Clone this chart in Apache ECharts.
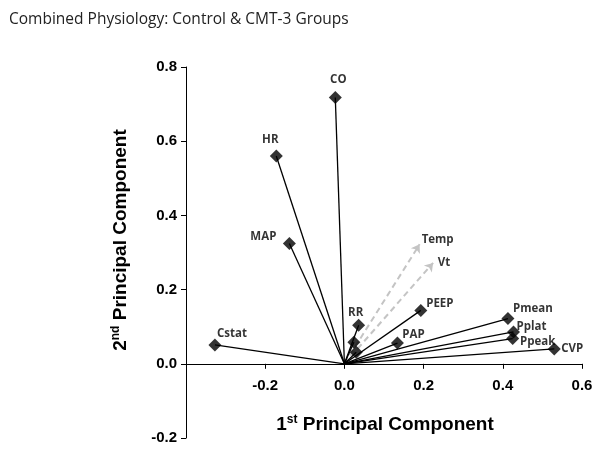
<!DOCTYPE html>
<html>
<head>
<meta charset="utf-8">
<script src="https://cdn.jsdelivr.net/npm/echarts@6/dist/echarts.min.js"></script>
<style>
html,body{margin:0;padding:0;background:#fff;}
#chart{width:600px;height:453px;}
</style>
</head>
<body>
<div id="chart"></div>
<script>
// ---- data ----
const titleText = 'Combined Physiology: Control & CMT-3 Groups';
const varNames = ['CO', 'HR', 'MAP', 'Cstat', 'RR', '', '', 'PAP', 'PEEP', 'Pmean', 'Pplat', 'Ppeak', 'CVP'];
const pc1 = [-0.023, -0.172, -0.139, -0.327, 0.036, 0.024, 0.030, 0.134, 0.193, 0.413, 0.427, 0.425, 0.530];
const pc2 = [0.718, 0.560, 0.324, 0.051, 0.104, 0.058, 0.031, 0.056, 0.144, 0.122, 0.086, 0.068, 0.040];
const suppNames = ['Temp', 'Vt'];
const suppPc1 = [0.190, 0.224];
const suppPc2 = [0.322, 0.272];
const xTicks = [-0.4, -0.2, 0.0, 0.2, 0.4, 0.6];
const yTicks = [-0.2, 0.0, 0.2, 0.4, 0.6, 0.8];

// ---- label placement (pixel offsets from marker centre) ----
const labelOffsets = {
  CO: [3, -18], HR: [-6, -16], MAP: [-26, -7], Cstat: [17, -11], RR: [-3, -12],
  PAP: [16, -8], PEEP: [19, -7], Pmean: [25, -10], Pplat: [18, -5], Ppeak: [25, 3],
  CVP: [18, 0], Temp: [18, -5], Vt: [11, 0]
};

const labelFont = { fontFamily: 'Open Sans', fontWeight: 'bold', fontSize: 11.5, color: '#000' };

const vectorLines = varNames.map((n, i) => ({ coords: [[0, 0], [pc1[i], pc2[i]]] }));
const suppLines = suppNames.map((n, i) => ({ coords: [[0, 0], [suppPc1[i], suppPc2[i]]] }));

function pointData(names, xs, ys) {
  return names.map((n, i) => ({
    value: [xs[i], ys[i]],
    name: n,
    label: {
      show: n !== '',
      position: 'inside',
      offset: labelOffsets[n] || [0, 0],
      formatter: n,
      ...labelFont
    }
  }));
}

const richTitle = {
  m: { fontFamily: 'Liberation Sans', fontWeight: 'bold', fontSize: 19, lineHeight: 23, fill: '#000' },
  s: { fontFamily: 'Liberation Sans', fontWeight: 'bold', fontSize: 12, lineHeight: 13, verticalAlign: 'top', fill: '#000' }
};

const chart = echarts.init(document.getElementById('chart'), null, { renderer: 'canvas' });
chart.setOption({
  animation: false,
  backgroundColor: '#fff',
  title: {
    text: titleText,
    left: 4, top: 7,
    textStyle: { fontFamily: 'Open Sans', fontWeight: 'normal', fontSize: 15.5, color: '#222' }
  },
  grid: { left: 186, right: 18, top: 67, bottom: 15, containLabel: false, outerBoundsMode: 'none' },
  xAxis: {
    type: 'value', min: -0.4, max: 0.6, interval: 0.2, position: 'bottom',
    axisLine: { onZero: false, lineStyle: { color: '#000', width: 1 } },
    axisTick: { show: true, length: 5, lineStyle: { color: '#000' } },
    splitLine: { show: false },
    axisLabel: {
      margin: 15, fontFamily: 'Liberation Sans', fontWeight: 'bold', fontSize: 15, color: '#000',
      formatter: v => (Math.abs(v - xTicks[0]) < 1e-9 ? '' : v.toFixed(1))
    }
  },
  yAxis: {
    type: 'value', min: -0.2, max: 0.8, interval: 0.2,
    axisLine: { show: true, onZero: false, lineStyle: { color: '#000', width: 1 } },
    axisTick: { show: true, length: 5, lineStyle: { color: '#000' } },
    splitLine: { show: false },
    axisLabel: {
      margin: 9, fontFamily: 'Liberation Sans', fontWeight: 'bold', fontSize: 15, color: '#000',
      formatter: v => v.toFixed(1)
    }
  },
  graphic: [
    {
      type: 'text', x: 385, y: 425,
      style: { x: 0, y: 0, align: 'center', verticalAlign: 'middle',
        text: '{m|1}{s|st}{m| Principal Component}', rich: richTitle }
    },
    {
      type: 'text', x: 121, y: 240, rotation: Math.PI / 2,
      style: { x: 0, y: 0, align: 'center', verticalAlign: 'middle',
        text: '{m|2}{s|nd}{m| Principal Component}', rich: richTitle }
    }
  ],
  series: [
    {
      type: 'lines', coordinateSystem: 'cartesian2d', z: 2,
      lineStyle: { color: '#c4c4c4', width: 2, type: [6, 4], opacity: 1 },
      symbol: ['none', 'arrow'], symbolSize: 8,
      data: suppLines
    },
    {
      type: 'lines', coordinateSystem: 'cartesian2d', z: 3,
      lineStyle: { color: '#000', width: 1.3, opacity: 1 },
      data: vectorLines
    },
    {
      type: 'scatter', z: 4, symbol: 'diamond', symbolSize: 13,
      itemStyle: { color: '#000' },
      data: pointData(varNames, pc1, pc2)
    },
    {
      type: 'scatter', z: 4, symbol: 'circle', symbolSize: 2,
      itemStyle: { color: 'rgba(0,0,0,0)' },
      data: pointData(suppNames, suppPc1, suppPc2)
    }
  ]
});

// move the x axis (line, ticks and labels) so that it crosses the y axis at 0
const yZeroPx = chart.convertToPixel({ yAxisIndex: 0 }, 0);
const yMinPx = chart.convertToPixel({ yAxisIndex: 0 }, yTicks[0]);
chart.setOption({ xAxis: { offset: yZeroPx - yMinPx } });
</script>
</body>
</html>
